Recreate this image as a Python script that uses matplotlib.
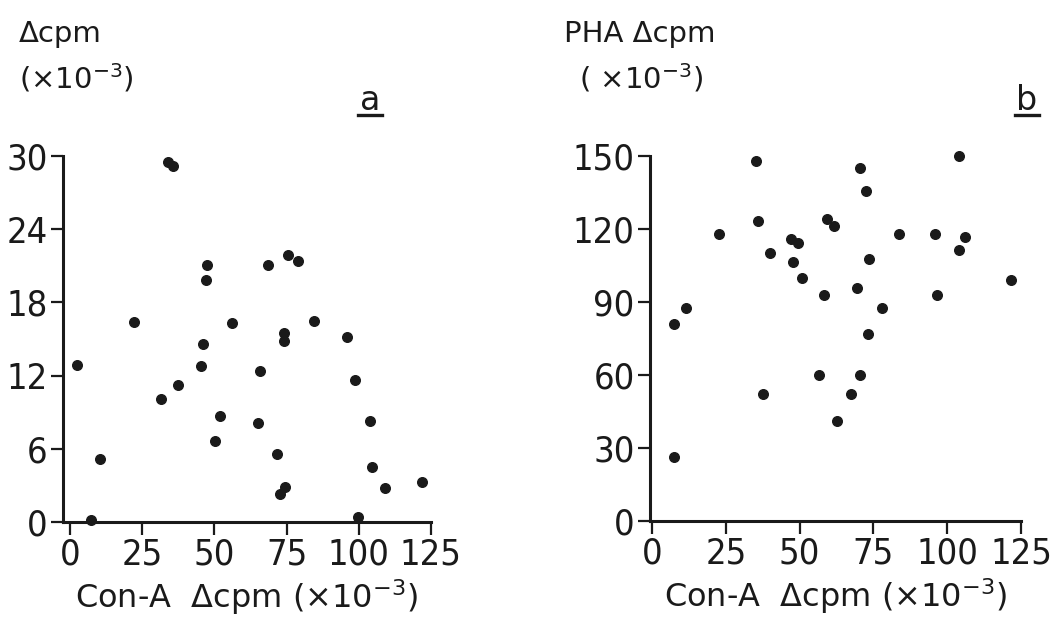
import matplotlib
matplotlib.use("Agg")
import matplotlib.pyplot as plt
from matplotlib.lines import Line2D

plt.rcParams['font.family'] = ['DejaVu Sans']
plt.rcParams['mathtext.default'] = 'regular'

ink = '#1a1a1a'

# panel a: Con-A vs delta cpm
conA_a = [2.6, 7.2, 10.5, 22.2, 34.1, 35.8, 31.4, 37.5, 45.4, 46.0, 47.0, 47.4,
          50.2, 52.0, 56.2, 65.2, 65.8, 68.5, 71.8, 72.7, 74.6, 74.2, 74.2,
          75.6, 79.1, 84.5, 95.8, 98.7, 99.6, 103.9, 104.5, 109.1, 122.0]
dcpm_a = [12.9, 0.2, 5.2, 16.4, 29.5, 29.2, 10.1, 11.2, 12.8, 14.6, 19.8, 21.1,
          6.6, 8.7, 16.3, 8.1, 12.4, 21.1, 5.6, 2.3, 2.9, 15.5, 14.8,
          21.9, 21.4, 16.5, 15.2, 11.6, 0.4, 8.3, 4.5, 2.8, 3.3]

# panel b: Con-A vs PHA
conA_b = [7.6, 11.6, 7.6, 22.6, 35.3, 35.9, 40.1, 37.7, 47.0, 49.5, 47.6, 50.7,
          56.7, 58.1, 59.2, 61.5, 62.8, 67.4, 69.4, 70.5, 70.5, 72.5, 73.0,
          73.5, 77.8, 83.5, 95.9, 96.7, 104.0, 104.1, 106.0, 121.6]
pha_b = [81.1, 87.4, 26.3, 118.1, 148.1, 123.3, 110.0, 52.3, 115.8, 114.4, 106.6, 99.7,
         59.8, 93.0, 124.1, 121.4, 41.2, 52.3, 95.9, 60.2, 144.9, 135.8, 76.7,
         107.5, 87.5, 117.8, 117.8, 93.0, 149.8, 111.2, 116.9, 98.9]

xticks = [0, 25, 50, 75, 100, 125]
yticks_a = [0, 6, 12, 18, 24, 30]
yticks_b = [0, 30, 60, 90, 120, 150]

W, H = 1057, 621
fig = plt.figure(figsize=(W / 100, H / 100), dpi=100)


def px(x0, y0, x1, y1):
    return [x0 / W, 1 - y1 / H, (x1 - x0) / W, (y1 - y0) / H]


def style(ax, xlim, yticks):
    ax.set_xlim(*xlim)
    ax.set_ylim(yticks[0], yticks[-1])
    ax.set_xticks(xticks)
    ax.set_yticks(yticks)
    for s in ['top', 'right']:
        ax.spines[s].set_visible(False)
    for s in ['left', 'bottom']:
        ax.spines[s].set_linewidth(2.2)
        ax.spines[s].set_color(ink)
    ax.tick_params(length=9, width=1.6, pad=2, labelsize=26, colors=ink)
    for lab in ax.get_xticklabels() + ax.get_yticklabels():
        lab.set_fontstretch('condensed')
    ax.set_xlabel('Con-A  \u0394cpm (\u00d710$^{-3}$)', fontsize=23, color=ink, labelpad=4)
    ax.patch.set_alpha(0)


ax1 = fig.add_axes(px(63, 156, 431, 522))
ax1.scatter(conA_a, dcpm_a, s=48, color=ink, clip_on=False, zorder=3)
style(ax1, (-2.4, 125), yticks_a)

ax2 = fig.add_axes(px(650, 156, 1021, 521))
ax2.scatter(conA_b, pha_b, s=48, color=ink, clip_on=False, zorder=3)
style(ax2, (-0.7, 125), yticks_b)

# axis captions and panel letters
fs = 21
fig.text(19 / W, 1 - 34 / H, '\u0394cpm', fontsize=fs, color=ink, va='center')
fig.text(19 / W, 1 - 78 / H, '(\u00d710$^{-3}$)', fontsize=fs, color=ink, va='center')
fig.text(564 / W, 1 - 34 / H, 'PHA \u0394cpm', fontsize=fs, color=ink, va='center')
fig.text(579 / W, 1 - 78 / H, '( \u00d710$^{-3}$)', fontsize=fs, color=ink, va='center')

for lx, letter in [(370, 'a'), (1027, 'b')]:
    fig.text(lx / W, 1 - 100 / H, letter, fontsize=24, color=ink, ha='center', va='center')
    fig.add_artist(Line2D([(lx - 12) / W, (lx + 12) / W], [1 - 115 / H, 1 - 115 / H],
                          color=ink, lw=2.4))

fig.savefig('out.png', dpi=100)
